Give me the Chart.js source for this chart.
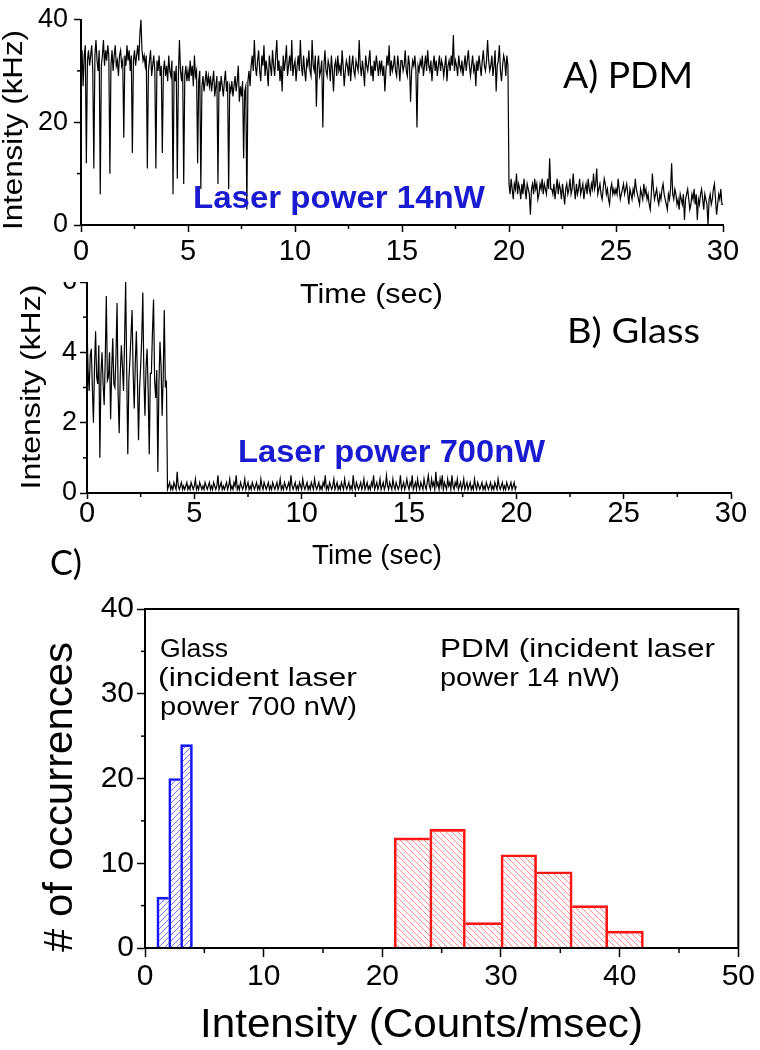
<!DOCTYPE html>
<html>
<head>
<meta charset="utf-8">
<script src="https://cdn.jsdelivr.net/npm/chart.js@4.4.1/dist/chart.umd.min.js"></script>
<style>
  body { margin: 0; background: #fff; }
  #page { position: relative; width: 760px; height: 1050px; overflow: hidden; }
  canvas { position: absolute; left: 0; }
  #traceA { top: 0; }
  #traceB { top: 262px; clip-path: inset(20px 0 0 0); }
  #histC { top: 590px; }
</style>
</head>
<body>
<div id="page">
  <canvas id="traceA" width="760" height="320"></canvas>
  <canvas id="traceB" width="760" height="318"></canvas>
  <canvas id="histC" width="760" height="460"></canvas>
</div>
<script>
// Trace data: intensity (kHz) sampled every 0.05 s, one row per second
const traceStep = 0.05;

// A) PDM, 0 - 30 s
const pdmTrace = [
  31, 34, 27, 33, 35, 12, 32, 34, 31, 33, 35, 30, 11, 33, 36, 32, 30, 34, 6, 31,
  33, 36, 31, 34, 32, 35, 33, 10, 31, 34, 30, 33, 35, 31, 32, 29, 33, 34, 31, 32,
  17, 33, 31, 35, 32, 34, 30, 33, 14, 32, 34, 31, 33, 35, 32, 37, 40, 34, 32, 33,
  31, 33, 11, 30, 32, 34, 29, 31, 33, 30, 11, 32, 30, 33, 29, 31, 14, 30, 32, 29,
  31, 28, 33, 30, 29, 32, 6, 30, 28, 31, 9, 29, 36, 30, 28, 31, 8, 29, 31, 28,
  30, 28, 32, 29, 31, 27, 33, 29, 30, 12, 28, 30, 7, 27, 29, 26, 28, 30, 27, 29,
  27, 29, 26, 28, 30, 25, 27, 29, 8, 28, 26, 29, 27, 25, 28, 30, 26, 28, 7, 27,
  26, 28, 25, 27, 29, 26, 28, 31, 24, 27, 25, 28, 13, 26, 27, 3, 28, 30, 27, 31,
  33, 30, 36, 31, 29, 32, 34, 30, 28, 33, 31, 35, 29, 32, 30, 27, 33, 31, 29, 34,
  31, 29, 33, 36, 30, 32, 28, 31, 26, 33, 30, 32, 35, 29, 31, 33, 30, 36, 29, 31,
  32, 28, 31, 33, 30, 36, 31, 29, 33, 30, 28, 32, 31, 34, 30, 29, 36, 31, 30, 33,
  23, 31, 33, 29, 30, 32, 19, 31, 34, 30, 29, 32, 31, 28, 33, 30, 26, 31, 32, 29,
  33, 30, 31, 29, 34, 31, 27, 30, 32, 31, 29, 33, 28, 31, 33, 30, 29, 32, 31, 30,
  36, 31, 29, 32, 30, 27, 33, 31, 30, 32, 34, 29, 31, 28, 32, 30, 33, 31, 29, 32,
  30, 32, 29, 31, 26, 30, 33, 31, 35, 29, 32, 30, 31, 33, 30, 29, 33, 31, 28, 32,
  32, 30, 31, 34, 30, 29, 33, 31, 24, 30, 32, 31, 33, 30, 19, 31, 30, 32, 31, 33,
  29, 31, 33, 30, 34, 31, 30, 32, 28, 31, 33, 30, 32, 29, 31, 33, 30, 32, 31, 29,
  31, 33, 28, 31, 32, 30, 33, 31, 37, 30, 32, 31, 29, 33, 31, 30, 32, 29, 31, 33,
  30, 32, 34, 31, 29, 31, 33, 30, 31, 27, 32, 30, 33, 31, 29, 32, 34, 31, 30, 32,
  36, 32, 30, 31, 33, 29, 31, 34, 26, 31, 32, 35, 30, 28, 31, 33, 32, 29, 33, 31,
  8, 6, 9, 7, 5, 8, 7, 10, 6, 8, 7, 5, 8, 6, 9, 7, 5, 8, 7, 6,
  2, 7, 8, 6, 9, 7, 8, 5, 6, 8, 7, 9, 6, 8, 7, 6, 9, 7, 13, 7,
  7, 6, 8, 5, 7, 9, 6, 8, 7, 5, 8, 6, 4, 7, 8, 6, 7, 9, 6, 7,
  10, 7, 5, 8, 6, 7, 9, 6, 7, 8, 5, 7, 8, 6, 9, 7, 6, 8, 7, 10,
  7, 8, 11, 6, 7, 8, 6, 5, 7, 9, 8, 6, 7, 5, 4, 7, 8, 6, 7, 6,
  7, 6, 9, 7, 5, 6, 7, 8, 6, 7, 8, 6, 4, 7, 6, 5, 7, 6, 9, 7,
  6, 5, 4, 7, 6, 5, 8, 6, 7, 5, 6, 4, 3, 6, 10, 7, 5, 6, 7, 5,
  4, 6, 5, 7, 8, 6, 5, 4, 3, 6, 5, 7, 12, 6, 5, 7, 6, 4, 5, 3,
  6, 5, 4, 6, 1, 5, 6, 7, 5, 3, 4, 6, 5, 7, 4, 6, 1, 5, 4, 6,
  7, 5, 3, 6, 5, 4, 0, 5, 6, 4, 5, 7, 8, 5, 2, 4, 6, 5, 7, 4,
  4
];

// B) Glass, 0 - 20 s
const glassTrace = [
  4.8, 3.5, 2.9, 3.9, 4.1, 3.0, 2.0, 3.6, 4.6, 3.3, 3.1, 4.2, 1.0, 3.4, 4.0, 3.1, 2.5, 3.8, 5.6, 3.2,
  3.3, 4.0, 2.1, 3.5, 4.4, 3.1, 3.0, 3.9, 5.4, 2.8, 1.7, 3.4, 4.2, 3.6, 2.9, 4.3, 6.0, 3.5, 1.1, 3.2,
  3.8, 4.5, 5.2, 3.4, 2.4, 3.7, 4.6, 3.2, 1.5, 3.0, 3.6, 4.4, 5.7, 3.3, 2.2, 3.6, 4.1, 2.9, 1.1, 3.4,
  3.4, 4.6, 5.5, 3.2, 2.7, 3.5, 0.6, 3.1, 4.3, 3.6, 2.2, 3.3, 5.2, 3.0, 3.2,
  0.1, 0.2, 0.3, 0.1, 0.2, 0.1, 0.3, 0.2, 0.1, 0.6, 0.2, 0.1, 0.2, 0.3, 0.1, 0.2, 0.1, 0.2, 0.3, 0.1,
  0.2, 0.1, 0.3, 0.2, 0.1, 0.2, 0.4, 0.1, 0.2, 0.1, 0.3, 0.2, 0.1, 0.2, 0.1, 0.3, 0.2, 0.1, 0.2, 0.3,
  0.1, 0.2, 0.1, 0.3, 0.2, 0.1, 0.2, 0.5, 0.1, 0.2, 0.3, 0.1, 0.2, 0.1, 0.2, 0.3, 0.1, 0.2, 0.4, 0.1,
  0.2, 0.1, 0.3, 0.2, 0.5, 0.1, 0.2, 0.1, 0.3, 0.2, 0.1, 0.2, 0.4, 0.1, 0.2, 0.3, 0.1, 0.2, 0.1, 0.3,
  0.2, 0.1, 0.2, 0.3, 0.1, 0.2, 0.1, 0.4, 0.2, 0.1, 0.3, 0.2, 0.1, 0.2, 0.3, 0.1, 0.2, 0.1, 0.3, 0.2,
  0.1, 0.2, 0.3, 0.1, 0.2, 0.4, 0.1, 0.2, 0.1, 0.3, 0.2, 0.1, 0.2, 0.3, 0.1, 0.5, 0.2, 0.1, 0.2, 0.3,
  0.1, 0.2, 0.1, 0.3, 0.2, 0.1, 0.4, 0.2, 0.1, 0.2, 0.3, 0.1, 0.2, 0.1, 0.3, 0.2, 0.1, 0.4, 0.2, 0.1,
  0.2, 0.3, 0.1, 0.2, 0.1, 0.3, 0.2, 0.5, 0.1, 0.2, 0.1, 0.3, 0.2, 0.1, 0.2, 0.4, 0.1, 0.2, 0.3, 0.1,
  0.2, 0.1, 0.3, 0.2, 0.1, 0.4, 0.2, 0.1, 0.2, 0.3, 0.1, 0.2, 0.1, 0.5, 0.2, 0.1, 0.3, 0.2, 0.1, 0.2,
  0.3, 0.1, 0.2, 0.4, 0.1, 0.2, 0.3, 0.1, 0.2, 0.1, 0.3, 0.2, 0.5, 0.1, 0.2, 0.3, 0.1, 0.2, 0.4, 0.1,
  0.2, 0.3, 0.1, 0.2, 0.5, 0.2, 0.1, 0.3, 0.2, 0.1, 0.4, 0.2, 0.1, 0.3, 0.2, 0.1, 0.2, 0.5, 0.1, 0.2,
  0.3, 0.1, 0.2, 0.4, 0.2, 0.1, 0.3, 0.2, 0.5, 0.1, 0.2, 0.3, 0.1, 0.4, 0.2, 0.1, 0.3, 0.2, 0.1, 0.4,
  0.2, 0.1, 0.3, 0.5, 0.2, 0.1, 0.4, 0.2, 0.3, 0.1, 0.6, 0.2, 0.3, 0.1, 0.4, 0.2, 0.5, 0.1, 0.3, 0.2,
  0.1, 0.4, 0.2, 0.3, 0.1, 0.5, 0.2, 0.1, 0.3, 0.2, 0.4, 0.1, 0.2, 0.3, 0.1, 0.2, 0.4, 0.1, 0.2, 0.3,
  0.1, 0.2, 0.3, 0.1, 0.2, 0.1, 0.4, 0.2, 0.1, 0.3, 0.2, 0.1, 0.2, 0.3, 0.1, 0.2, 0.1, 0.3, 0.2, 0.1,
  0.2, 0.3, 0.1, 0.2, 0.1, 0.3, 0.2, 0.1, 0.4, 0.2, 0.1, 0.2, 0.3, 0.1, 0.2, 0.1, 0.3, 0.2, 0.1, 0.2,
  0.3, 0.1, 0.2, 0.3, 0.1, 0.2
];

// C) histograms: bin edges and counts
const glassBinEdges = [1, 2, 3, 4];
const glassCounts = [6, 20, 24];
const pdmBinEdges = [21, 24, 27, 30, 33, 36, 39, 42];
const pdmCounts = [13, 14, 3, 11, 9, 5, 2];

const timeTicks = [0, 30, 5];       // min, max, step
const pdmIntensityTicks = [0, 40, 20];
const glassIntensityTicks = [0, 6, 2];
const histXTicks = [0, 50, 10];
const histYTicks = [0, 40, 10];

Chart.defaults.font.family = '"Liberation Sans", Arial, sans-serif';
Chart.defaults.color = '#000';

function toPoints(values, step) {
  return values.map((v, i) => ({ x: +(i * step).toFixed(2), y: v }));
}

function toBars(edges, counts) {
  return counts.map((c, i) => ({ x: (edges[i] + edges[i + 1]) / 2, y: c }));
}

// outline of the histogram: a shared edge is drawn once, by the taller bar
function barBorders(counts) {
  return ctx => {
    const i = ctx.dataIndex;
    const cur = counts[i];
    const left = (i === 0 || counts[i - 1] <= cur) ? 2 : 0;
    const right = (i === counts.length - 1 || counts[i + 1] < cur) ? 2 : 0;
    return { top: 2, left: left, right: right, bottom: 0 };
  };
}

function hatch(color, forward) {
  const c = document.createElement('canvas');
  c.width = 6; c.height = 6;
  const g = c.getContext('2d');
  g.strokeStyle = color;
  g.lineWidth = 1;
  g.beginPath();
  if (forward) {
    g.moveTo(-1, 7); g.lineTo(7, -1);
    g.moveTo(-1, 1); g.lineTo(1, -1);
    g.moveTo(5, 7); g.lineTo(7, 5);
  } else {
    g.moveTo(-1, -1); g.lineTo(7, 7);
    g.moveTo(5, -1); g.lineTo(7, 1);
    g.moveTo(-1, 5); g.lineTo(1, 7);
  }
  g.stroke();
  return g.createPattern(c, 'repeat');
}

// text, page coordinates (baseline; centre for rotated), w = width
const AX = '"Liberation Sans"';
const notes = {
  traceA: { top: 0, items: [
    { text: 'A) PDM', x: 563, y: 88, font: '36px Lato', w: 130 },
    { text: 'Laser power 14nW', x: 193, y: 208, font: 'bold 31px ' + AX, color: '#1a1ad0', w: 292 },
    { text: 'Time (sec)', x: 300, y: 303, font: '28px ' + AX, w: 143 },
    { text: 'Intensity (kHz)', x: 22, y: 130, font: '27px ' + AX, w: 200, rot: true }
  ]},
  traceB: { top: 262, items: [
    { text: 'B) Glass', x: 567, y: 343, font: '34px Lato', w: 133 },
    { text: 'Laser power 700nW', x: 238, y: 462, font: 'bold 31px ' + AX, color: '#1a1ad0', w: 307 },
    { text: 'Time (sec)', x: 312, y: 564, font: '28px ' + AX, w: 130 },
    { text: 'Intensity (kHz)', x: 40, y: 387, font: '27px ' + AX, w: 205, rot: true },
    { text: 'C)', x: 50, y: 575, font: '34px Lato', w: 32 }
  ]},
  histC: { top: 590, items: [
    { text: 'Glass', x: 160, y: 657, font: '25px ' + AX, w: 68 },
    { text: '(incident laser', x: 158, y: 686, font: '25px ' + AX, w: 199 },
    { text: 'power 700 nW)', x: 160, y: 715, font: '25px ' + AX, w: 197 },
    { text: 'PDM (incident laser', x: 440, y: 657, font: '25px ' + AX, w: 275 },
    { text: 'power 14 nW)', x: 440, y: 686, font: '25px ' + AX, w: 180 },
    { text: 'Intensity (Counts/msec)', x: 200, y: 1037, font: '40px ' + AX, w: 443 },
    { text: '# of occurrences', x: 72, y: 797, font: '40px ' + AX, w: 310, rot: true }
  ]}
};

// minor tick marks between the labelled ones: [step, length]
const minorTicks = {
  traceA: { x: [2.5, 4], y: [10, 4] },
  traceB: { x: [2.5, 4], y: [1, 4] },
  histC: { x: [5, 5], y: [5, 4] }
};

const figurePlugin = {
  id: 'figurePlugin',
  afterDraw(chart) {
    const ctx = chart.ctx;
    const id = chart.canvas.id;
    const minor = minorTicks[id];
    ctx.save();
    ctx.strokeStyle = '#000';
    ctx.lineWidth = 1.5;
    for (const axis of ['x', 'y']) {
      const s = chart.scales[axis];
      const [step, len] = minor[axis];
      for (let v = s.min + step; v < s.max; v += 2 * step) {
        const p = s.getPixelForValue(v);
        ctx.beginPath();
        if (axis === 'x') { ctx.moveTo(p, s.top); ctx.lineTo(p, s.top + len); }
        else { ctx.moveTo(s.right, p); ctx.lineTo(s.right - len, p); }
        ctx.stroke();
      }
    }
    if (id === 'histC') {
      const a = chart.chartArea;
      ctx.lineWidth = 2;
      ctx.strokeRect(a.left, a.top, a.right - a.left, a.bottom - a.top);
    }
    const n = notes[id];
    n.items.forEach(t => {
      ctx.save();
      ctx.font = t.font;
      ctx.fillStyle = t.color || '#000';
      ctx.textBaseline = 'alphabetic';
      const sx = t.w ? t.w / ctx.measureText(t.text).width : 1;
      ctx.translate(t.x, t.y - n.top);
      if (t.rot) {
        ctx.rotate(-Math.PI / 2);
        ctx.textAlign = 'center';
      }
      ctx.scale(sx, 1);
      ctx.fillText(t.text, 0, 0);
      ctx.restore();
    });
    ctx.restore();
  }
};

function axisX(range, o) {
  return {
    type: 'linear', min: range[0], max: range[1], offset: false,
    ticks: { stepSize: range[2], maxRotation: 0, autoSkip: false, padding: o.pad,
             font: { size: o.font, lineHeight: 1 }, color: '#000' },
    grid: { drawOnChartArea: false, offset: false, tickLength: o.tick, tickWidth: 1.5, tickColor: '#000' },
    border: { color: '#000', width: 2 },
    title: { display: false },
    afterFit: s => { s.height = o.height; }
  };
}

function axisY(range, o) {
  return {
    type: 'linear', min: range[0], max: range[1],
    ticks: { stepSize: range[2], padding: o.pad, font: { size: o.font, lineHeight: 1 }, color: '#000' },
    grid: { drawOnChartArea: false, tickLength: o.tick, tickWidth: 1.5, tickColor: '#000' },
    border: { color: '#000', width: 2 },
    title: { display: false },
    afterFit: s => { s.width = o.width; }
  };
}

const common = {
  responsive: false,
  animation: false,
  events: [],
  plugins: { legend: { display: false }, tooltip: { enabled: false } }
};

// A) PDM trace
new Chart(document.getElementById('traceA'), {
  type: 'line',
  data: { datasets: [{
    data: toPoints(pdmTrace, traceStep),
    borderColor: '#000', borderWidth: 1.2, pointRadius: 0, tension: 0
  }] },
  plugins: [figurePlugin],
  options: Object.assign({}, common, {
    layout: { padding: { left: 0, top: 15, right: 37, bottom: 0 } },
    scales: {
      x: axisX(timeTicks, { font: 29, pad: 5, tick: 7, height: 95 }),
      y: axisY(pdmIntensityTicks, { font: 27, pad: 6, tick: 7, width: 81 })
    }
  })
});

// B) Glass trace
new Chart(document.getElementById('traceB'), {
  type: 'line',
  data: { datasets: [{
    data: toPoints(glassTrace, traceStep),
    borderColor: '#000', borderWidth: 1.2, pointRadius: 0, tension: 0
  }] },
  plugins: [figurePlugin],
  options: Object.assign({}, common, {
    layout: { padding: { left: 0, top: 20, right: 29, bottom: 0 } },
    scales: {
      x: axisX(timeTicks, { font: 29, pad: 0, tick: 6, height: 87 }),
      y: axisY(glassIntensityTicks, { font: 27, pad: 3, tick: 7, width: 87 })
    }
  })
});

// C) histograms of intensity, each on its own x axis so bins keep their width
new Chart(document.getElementById('histC'), {
  type: 'bar',
  data: { datasets: [
    {
      data: toBars(glassBinEdges, glassCounts), xAxisID: 'x', grouped: false,
      backgroundColor: hatch('rgba(70,70,255,0.75)', true),
      borderColor: '#1414ff', borderWidth: barBorders(glassCounts),
      barPercentage: 1, categoryPercentage: 1
    },
    {
      data: toBars(pdmBinEdges, pdmCounts), xAxisID: 'x2', grouped: false,
      backgroundColor: hatch('rgba(255,90,90,0.7)', false),
      borderColor: '#ff1414', borderWidth: barBorders(pdmCounts),
      barPercentage: 1, categoryPercentage: 1
    }
  ] },
  plugins: [figurePlugin],
  options: Object.assign({}, common, {
    layout: { padding: { left: 0, top: 19, right: 18, bottom: 0 } },
    scales: {
      x: axisX(histXTicks, { font: 30, pad: 5, tick: 9, height: 102 }),
      x2: { type: 'linear', display: false, min: histXTicks[0], max: histXTicks[1], offset: false,
            ticks: { stepSize: histXTicks[2] }, grid: { offset: false } },
      y: axisY(histYTicks, { font: 30, pad: 3, tick: 8, width: 145 })
    }
  })
});
</script>
</body>
</html>
